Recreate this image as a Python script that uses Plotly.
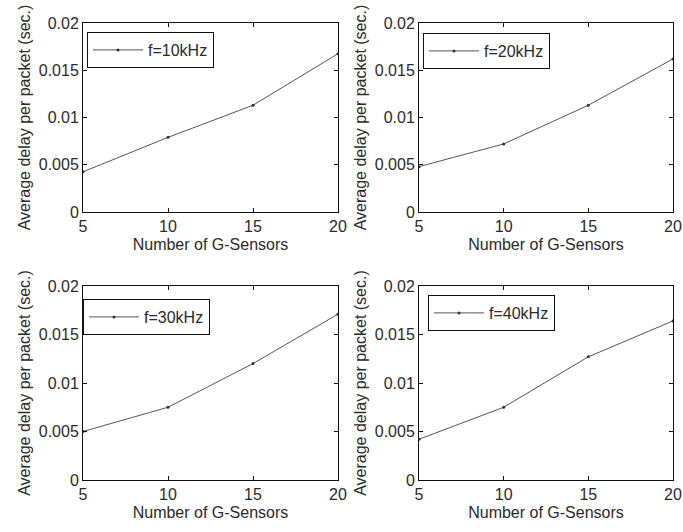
import plotly.graph_objects as go

W, H = 683, 532

sensors = [5, 10, 15, 20]
labels = ["f=10kHz", "f=20kHz", "f=30kHz", "f=40kHz"]
delay_10k = [0.00425, 0.0079, 0.0113, 0.01675]
delay_20k = [0.0048, 0.0072, 0.0113, 0.0162]
delay_30k = [0.0050, 0.0075, 0.0120, 0.0171]
delay_40k = [0.0042, 0.0075, 0.0127, 0.0164]
series = [delay_10k, delay_20k, delay_30k, delay_40k]

x_ticks = [5, 10, 15, 20]
x_tick_labels = ["5", "10", "15", "20"]
y_ticks = [0, 0.005, 0.01, 0.015, 0.02]
y_tick_labels = ["0", "0.005", "0.01", "0.015", "0.02"]

x_title = "Number of G-Sensors"
y_title = "Average delay per packet (sec.)"

# panel pixel boxes: (left, right, top, bottom)
boxes = [(83, 338, 23, 212), (419, 673, 23, 212), (83, 338, 286, 480), (419, 673, 286, 480)]
legend_pos = [(87, 32), (423, 33), (83, 299), (428, 295)]

FONT = "Liberation Sans, Arial, sans-serif"
TXT = "#2a2a2a"

fig = go.Figure()
layout = {}
for i, (ys, lab) in enumerate(zip(series, labels)):
    n = "" if i == 0 else str(i + 1)
    lg = "legend" + n
    fig.add_trace(go.Scatter(
        x=sensors, y=ys, mode="lines+markers", name=lab,
        line=dict(color="#555555", width=1),
        marker=dict(size=3, color="#333333"),
        xaxis="x" + n, yaxis="y" + n, legend=lg, showlegend=True,
    ))
    l, r, t, b = boxes[i]
    layout["xaxis" + n] = dict(
        domain=[l / W, r / W], anchor="y" + n, range=[5, 20],
        tickvals=x_ticks, ticktext=x_tick_labels,
        showline=True, linecolor="#111111", linewidth=1, mirror="ticks",
        ticks="inside", ticklen=4, tickcolor="#111111",
        showgrid=False, zeroline=False,
        tickfont=dict(family=FONT, size=16, color=TXT),
        title=dict(text=x_title, font=dict(family=FONT, size=16, color=TXT), standoff=4),
        automargin=False,
    )
    layout["yaxis" + n] = dict(
        domain=[1 - b / H, 1 - t / H], anchor="x" + n, range=[0, 0.02],
        tickvals=y_ticks, ticktext=y_tick_labels,
        showline=True, linecolor="#111111", linewidth=1, mirror="ticks",
        ticks="inside", ticklen=4, tickcolor="#111111",
        showgrid=False, zeroline=False,
        tickfont=dict(family=FONT, size=16, color=TXT),
        title=dict(text=y_title, font=dict(family=FONT, size=16, color=TXT), standoff=4),
        automargin=False,
    )
    lx, ly = legend_pos[i]
    layout[lg] = dict(
        x=lx / W, y=1 - ly / H, xanchor="left", yanchor="top",
        xref="paper", yref="paper",
        bgcolor="white", bordercolor="#111111", borderwidth=1,
        font=dict(family=FONT, size=16, color=TXT),
        itemwidth=50, tracegroupgap=0,
    )

fig.update_layout(
    width=W, height=H, margin=dict(l=0, r=0, t=0, b=0),
    paper_bgcolor="white", plot_bgcolor="white",
    **layout,
)
fig.write_html("out.html")
